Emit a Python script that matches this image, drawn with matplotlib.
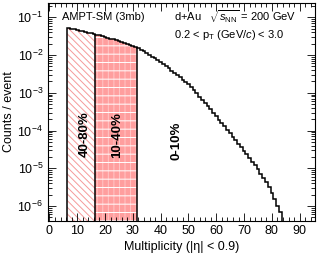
import numpy as np
import matplotlib
matplotlib.use("Agg")
import matplotlib.pyplot as plt
from matplotlib.ticker import MultipleLocator, LogLocator, NullFormatter

# ---- data ----
bin_edges = np.arange(6.5, 84.5, 1.0)   # multiplicity bins 7..83
counts = [
    5.25e-2, 5.05e-2, 4.85e-2, 4.67e-2, 4.48e-2, 4.30e-2, 4.12e-2, 3.95e-2, 3.79e-2, 3.63e-2,
    3.47e-2, 3.31e-2, 3.16e-2, 3.01e-2, 2.87e-2, 2.73e-2, 2.59e-2, 2.46e-2, 2.33e-2, 2.21e-2,
    2.09e-2, 1.97e-2, 1.86e-2, 1.75e-2, 1.63e-2, 1.51e-2, 1.38e-2, 1.26e-2, 1.14e-2, 1.02e-2,
    9.12e-3, 8.13e-3, 7.24e-3, 6.46e-3, 5.69e-3, 5.01e-3, 4.42e-3, 3.89e-3, 3.39e-3, 2.95e-3,
    2.57e-3, 2.24e-3, 1.95e-3, 1.66e-3, 1.41e-3, 1.17e-3, 9.77e-4, 7.94e-4, 6.61e-4, 5.37e-4,
    4.37e-4, 3.63e-4, 2.95e-4, 2.40e-4, 1.95e-4, 1.58e-4, 1.29e-4, 1.05e-4, 8.51e-5, 6.92e-5,
    5.62e-5, 4.47e-5, 3.63e-5, 2.95e-5, 2.40e-5, 1.91e-5, 1.51e-5, 1.20e-5, 9.33e-6, 7.24e-6,
    5.62e-6, 4.27e-6, 3.16e-6, 2.24e-6, 1.51e-6, 1.00e-6, 7.08e-7,
]
cut_edges = [6.5, 16.5, 31.5]          # 40-80% | 10-40% | 0-10% boundaries
class_labels = ["40-80%", "10-40%", "0-10%"]
label_x = [12.6, 24.5, 45.7]
xticks = [0, 10, 20, 30, 40, 50, 60, 70, 80, 90]

plt.rcParams['font.family'] = ['Liberation Sans', 'DejaVu Sans']
plt.rcParams['mathtext.fontset'] = 'custom'
plt.rcParams['mathtext.rm'] = 'Liberation Sans'
plt.rcParams['mathtext.it'] = 'Liberation Sans:italic'
plt.rcParams['mathtext.bf'] = 'Liberation Sans:bold'
plt.rcParams['hatch.linewidth'] = 0.7

fig = plt.figure(figsize=(3.17, 2.61), dpi=100)
ax = fig.add_axes([48/317, 1-221/261, 267/317, 218/261])
ax.set_yscale('log')

counts = np.asarray(counts)
base = 1e-9
edges = np.asarray(bin_edges)

i0 = 0
i1 = int(round(cut_edges[1] - edges[0]))
i2 = int(round(cut_edges[2] - edges[0]))
# 40-80% region
ax.stairs(counts[i0:i1], edges[i0:i1+1], baseline=base, fill=True,
          facecolor='white', edgecolor='#f59a9a', hatch='\\\\\\\\\\', lw=0)
# 10-40% region
ax.stairs(counts[i1:i2], edges[i1:i2+1], baseline=base, fill=True,
          facecolor='#ff9e9e', edgecolor='#ffc6c6', hatch='|||', lw=0)
ax.stairs(counts[i1:i2], edges[i1:i2+1], baseline=base, fill=True,
          facecolor='none', edgecolor='white', hatch='--', lw=0)

# histogram outline
ax.stairs(counts, edges, baseline=base, color='black', lw=1.1)
ax.vlines([cut_edges[1], cut_edges[2]], base, [counts[i1-1], counts[i2-1]], color='black', lw=1.1)

ax.set_xlim(-0.5, 95.5)
ax.set_ylim(4e-7, 0.24)

ax.xaxis.set_major_locator(MultipleLocator(10))
ax.xaxis.set_minor_locator(MultipleLocator(2))
ax.set_xticks(xticks)
ax.yaxis.set_major_locator(LogLocator(base=10, numticks=20))
ax.yaxis.set_minor_locator(LogLocator(base=10, subs=np.arange(2, 10), numticks=20))
ax.yaxis.set_minor_formatter(NullFormatter())
ax.tick_params(which='both', direction='in', top=True, right=True, labelsize=9, width=0.6)
ax.tick_params(which='major', length=6)
ax.tick_params(which='minor', length=3)
ax.tick_params(axis='x', pad=3)
for s in ax.spines.values():
    s.set_linewidth(0.8)

ax.set_xlabel('Multiplicity (|η| < 0.9)', fontsize=9, labelpad=3)
ax.set_ylabel('Counts / event', fontsize=9, labelpad=2)

ax.text(0.052, 0.936, 'AMPT-SM (3mb)', transform=ax.transAxes, fontsize=8, va='center', ha='left')
ax.text(0.472, 0.936, r'd+Au   $\sqrt{s_{\rm NN}}$ = 200 GeV', transform=ax.transAxes,
        fontsize=8, va='center', ha='left')
ax.text(0.472, 0.853, r'0.2 < p$_{\rm T}$ (GeV/$\it{c}$) < 3.0', transform=ax.transAxes,
        fontsize=8, va='center', ha='left')

for lx, lab, ly in zip(label_x, class_labels, [0.399, 0.394, 0.37]):
    ax.text(lx, ly, lab, transform=ax.get_xaxis_transform(), rotation=90,
            fontsize=9.5, fontweight='bold', ha='center', va='center')

fig.savefig('out.png', dpi=100)
